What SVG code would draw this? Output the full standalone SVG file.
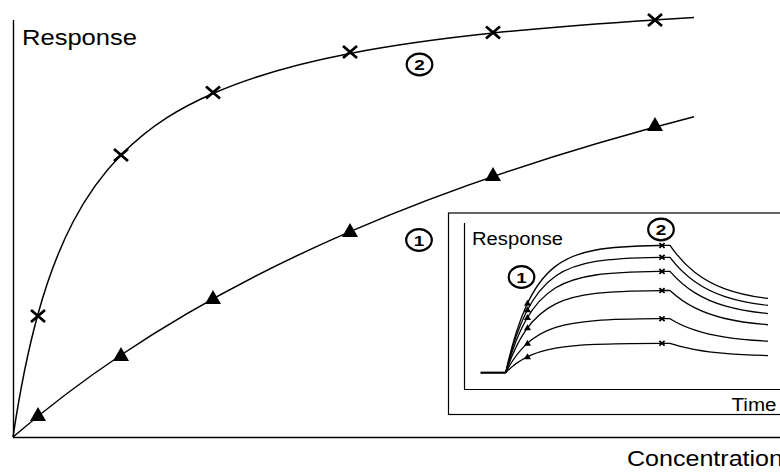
<svg xmlns="http://www.w3.org/2000/svg" xmlns:xlink="http://www.w3.org/1999/xlink" width="780" height="473" viewBox="0 0 780 473">
<style>
.curve{fill:none;stroke:#000;stroke-width:1.5}
.icurve{fill:none;stroke:#000;stroke-width:1.3}
.axis{fill:none;stroke:#000;stroke-width:1.4}
.lbl{font-family:"Liberation Sans",Arial,Helvetica,sans-serif;fill:#000}
.num{font-family:"Liberation Sans",Arial,Helvetica,sans-serif;font-weight:bold;font-size:15.5px;fill:#000;text-anchor:middle}
.ring{fill:#fff;stroke:#000;stroke-width:2.2}
</style>
<defs>
<path id="tri" d="M-8,6 L0,-8 L8,6 Z" fill="#000"/>
<path id="crs" d="M-7,-6 L7,6 M-7,6 L7,-6" stroke="#000" stroke-width="2.8" fill="none"/>
<path id="tris" d="M-3.5,2.5 L0,-3.5 L3.5,2.5 Z" fill="#000"/>
<path id="crss" d="M-2.6,-2.4 L2.6,2.4 M-2.6,2.4 L2.6,-2.4" stroke="#000" stroke-width="1.8" fill="none"/>
</defs>

<g id="axes">
<line class="axis" x1="13.5" y1="20" x2="13.5" y2="437.5" stroke="#333"/>
<line class="axis" x1="13" y1="437.5" x2="780" y2="437.5"/>
<text class="lbl" x="22" y="44.5" font-size="22" textLength="115" lengthAdjust="spacingAndGlyphs">Response</text>
<text class="lbl" x="627" y="466" font-size="22" textLength="156" lengthAdjust="spacingAndGlyphs">Concentration</text>
</g>

<g id="connectors">
<path id="curve2" class="curve" d="M13,437 C21.33,381.13 29.67,344.1 38,314.02 C49.67,271.91 61.33,244.34 73,222 C89,191.36 105,171.27 121,155 C151.67,123.81 182.33,107 213,93.5 C258.67,73.4 304.33,62.32 350,53.5 C397.67,44.29 445.33,38.13 493,33.1 C547,27.4 601,23.3 655,19.9 C668,19.08 681,18.24 694,17.5"/>
<path id="curve1" class="curve" d="M13,437 C49,406.09 85,379.17 121,355 C197.33,303.76 273.67,264.64 350,231.6 C464.67,181.97 579.33,146.24 694,116.7"/>
</g>

<g id="series2-markers">
<use xlink:href="#crs" x="38" y="316"/>
<use xlink:href="#crs" x="121" y="155"/>
<use xlink:href="#crs" x="213" y="92.5"/>
<use xlink:href="#crs" x="350" y="52"/>
<use xlink:href="#crs" x="493" y="32.5"/>
<use xlink:href="#crs" x="655" y="20"/>
</g>
<g id="series1-markers">
<use xlink:href="#tri" x="38" y="415"/>
<use xlink:href="#tri" x="121" y="355"/>
<use xlink:href="#tri" x="213" y="298"/>
<use xlink:href="#tri" x="350" y="231"/>
<use xlink:href="#tri" x="493" y="175"/>
<use xlink:href="#tri" x="655" y="125"/>
</g>

<g id="label2">
<ellipse class="ring" cx="419.5" cy="64.5" rx="12.8" ry="10.8"/>
<text class="num" x="419.5" y="70" textLength="10.5" lengthAdjust="spacingAndGlyphs">2</text>
</g>
<g id="label1">
<ellipse class="ring" cx="419" cy="240" rx="12.8" ry="10.8"/>
<text class="num" x="419" y="245.5" textLength="10.5" lengthAdjust="spacingAndGlyphs">1</text>
</g>

<g id="inset">
<rect x="448.5" y="213" width="340" height="201.5" fill="#fff" stroke="#000" stroke-width="1.2"/>
<line x1="464.5" y1="223" x2="464.5" y2="389.5" stroke="#000" stroke-width="1.2"/>
<line x1="464" y1="389.5" x2="780" y2="389.5" stroke="#000" stroke-width="1.2"/>
<text class="lbl" x="472" y="245" font-size="17.5" textLength="91" lengthAdjust="spacingAndGlyphs">Response</text>
<text class="lbl" x="731.5" y="410.5" font-size="17.5" textLength="45" lengthAdjust="spacingAndGlyphs">Time</text>
<line x1="480.5" y1="372.7" x2="505.7" y2="372.7" stroke="#000" stroke-width="2.2"/>
<g id="sensorgrams">
<path class="icurve" d="M505.7,372.7 C512.37,342.05 519.03,322.08 525.7,307.16 C535.7,284.79 545.7,273.71 555.7,266.11 C569.03,255.98 582.37,252.41 595.7,250.01 C617.8,246.02 639.9,245.83 662,245.46 L670,245.46 C678.33,257.54 686.67,265.95 695,272.41 C705,280.17 715,285.13 725,288.8 C739.33,294.05 753.67,296.66 768,298.45"/>
<path class="icurve" d="M505.7,372.7 C512.37,344.91 519.03,326.8 525.7,313.27 C535.7,292.98 545.7,282.93 555.7,276.04 C569.03,266.86 582.37,263.62 595.7,261.44 C617.8,257.83 639.9,257.65 662,257.32 L670,257.32 C678.33,268.28 686.67,275.9 695,281.76 C705,288.8 715,293.3 725,296.62 C739.33,301.39 753.67,303.75 768,305.38"/>
<path class="icurve" d="M505.7,372.7 C512.37,348.29 519.03,332.39 525.7,320.51 C535.7,302.69 545.7,293.86 555.7,287.81 C569.03,279.75 582.37,276.9 595.7,274.99 C617.8,271.81 639.9,271.66 662,271.37 L670,271.37 C678.33,280.99 686.67,287.68 695,292.83 C705,299.01 715,302.96 725,305.88 C739.33,310.07 753.67,312.14 768,313.57"/>
<path class="icurve" d="M505.7,372.7 C512.37,352.9 519.03,340 525.7,330.36 C535.7,315.91 545.7,308.75 555.7,303.84 C569.03,297.29 582.37,294.98 595.7,293.43 C617.8,290.86 639.9,290.74 662,290.5 L670,290.5 C678.33,298.31 686.67,303.73 695,307.91 C705,312.93 715,316.13 725,318.5 C739.33,321.89 753.67,323.58 768,324.74"/>
<path class="icurve" d="M505.7,372.7 C512.37,359.69 519.03,351.22 525.7,344.88 C535.7,335.39 545.7,330.68 555.7,327.46 C569.03,323.16 582.37,321.64 595.7,320.62 C617.8,318.93 639.9,318.85 662,318.7 L670,318.7 C678.33,323.83 686.67,327.4 695,330.14 C705,333.44 715,335.54 725,337.1 C739.33,339.33 753.67,340.43 768,341.2"/>
<path class="icurve" d="M505.7,372.7 C512.37,365.62 519.03,361.01 525.7,357.56 C535.7,352.39 545.7,349.83 555.7,348.08 C569.03,345.74 582.37,344.91 595.7,344.36 C617.8,343.44 639.9,343.39 662,343.31 L670,343.31 C678.33,346.1 686.67,348.04 695,349.54 C705,351.33 715,352.48 725,353.32 C739.33,354.54 753.67,355.14 768,355.55"/>
</g>
<g id="inset-markers">
<use xlink:href="#tris" x="527.5" y="303.3"/>
<use xlink:href="#tris" x="527.5" y="309.7"/>
<use xlink:href="#tris" x="527.5" y="317.4"/>
<use xlink:href="#tris" x="527.5" y="327.8"/>
<use xlink:href="#tris" x="527.5" y="343.2"/>
<use xlink:href="#tris" x="527.5" y="356.7"/>
<use xlink:href="#crss" x="662" y="245.5"/>
<use xlink:href="#crss" x="662" y="257.3"/>
<use xlink:href="#crss" x="662" y="271.4"/>
<use xlink:href="#crss" x="662" y="290.5"/>
<use xlink:href="#crss" x="662" y="318.7"/>
<use xlink:href="#crss" x="662" y="343.3"/>
</g>
<g id="inset-label1">
<ellipse class="ring" cx="521.5" cy="277" rx="12.8" ry="10.8"/>
<text class="num" x="521.5" y="282.5" textLength="10.5" lengthAdjust="spacingAndGlyphs">1</text>
</g>
<g id="inset-label2">
<ellipse class="ring" cx="661" cy="229.5" rx="12.8" ry="10.8"/>
<text class="num" x="661" y="235" textLength="10.5" lengthAdjust="spacingAndGlyphs">2</text>
</g>
</g>
</svg>
